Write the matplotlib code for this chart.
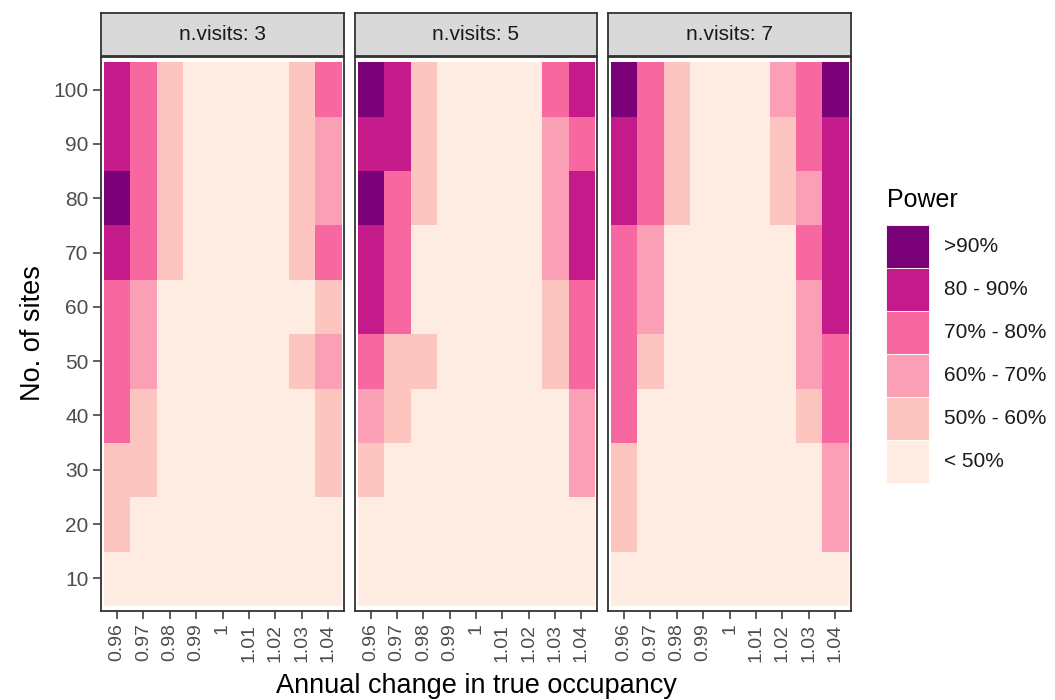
import numpy as np
import matplotlib
matplotlib.use("Agg")
import matplotlib.pyplot as plt
from matplotlib.colors import ListedColormap, BoundaryNorm
from matplotlib.patches import Rectangle

plt.rcParams['font.family'] = ['Liberation Sans', 'DejaVu Sans']

# x categories and y categories
changes = ["0.96", "0.97", "0.98", "0.99", "1", "1.01", "1.02", "1.03", "1.04"]
sites = [10, 20, 30, 40, 50, 60, 70, 80, 90, 100]
visits = [3, 5, 7]

# power classes: 0 "< 50%", 1 "50-60", 2 "60-70", 3 "70-80", 4 "80-90", 5 ">90"
# rows listed from 100 sites down to 10 sites
power_v3 = [
    [4, 3, 1, 0, 0, 0, 0, 1, 3],
    [4, 3, 1, 0, 0, 0, 0, 1, 2],
    [5, 3, 1, 0, 0, 0, 0, 1, 2],
    [4, 3, 1, 0, 0, 0, 0, 1, 3],
    [3, 2, 0, 0, 0, 0, 0, 0, 1],
    [3, 2, 0, 0, 0, 0, 0, 1, 2],
    [3, 1, 0, 0, 0, 0, 0, 0, 1],
    [1, 1, 0, 0, 0, 0, 0, 0, 1],
    [1, 0, 0, 0, 0, 0, 0, 0, 0],
    [0, 0, 0, 0, 0, 0, 0, 0, 0],
]
power_v5 = [
    [5, 4, 1, 0, 0, 0, 0, 3, 4],
    [4, 4, 1, 0, 0, 0, 0, 2, 3],
    [5, 3, 1, 0, 0, 0, 0, 2, 4],
    [4, 3, 0, 0, 0, 0, 0, 2, 4],
    [4, 3, 0, 0, 0, 0, 0, 1, 3],
    [3, 1, 1, 0, 0, 0, 0, 1, 3],
    [2, 1, 0, 0, 0, 0, 0, 0, 2],
    [1, 0, 0, 0, 0, 0, 0, 0, 2],
    [0, 0, 0, 0, 0, 0, 0, 0, 0],
    [0, 0, 0, 0, 0, 0, 0, 0, 0],
]
power_v7 = [
    [5, 3, 1, 0, 0, 0, 2, 3, 5],
    [4, 3, 1, 0, 0, 0, 1, 3, 4],
    [4, 3, 1, 0, 0, 0, 1, 2, 4],
    [3, 2, 0, 0, 0, 0, 0, 3, 4],
    [3, 2, 0, 0, 0, 0, 0, 2, 4],
    [3, 1, 0, 0, 0, 0, 0, 2, 3],
    [3, 0, 0, 0, 0, 0, 0, 1, 3],
    [1, 0, 0, 0, 0, 0, 0, 0, 2],
    [1, 0, 0, 0, 0, 0, 0, 0, 2],
    [0, 0, 0, 0, 0, 0, 0, 0, 0],
]
panels = [power_v3, power_v5, power_v7]

class_labels = ["< 50%", "50% - 60%", "60% - 70%", "70% - 80%", "80 - 90%", ">90%"]
class_colors = ["#feebe2", "#fcc5c0", "#fa9fb5", "#f768a1", "#c51b8a", "#7a0177"]

cmap = ListedColormap(class_colors)
norm = BoundaryNorm(np.arange(-0.5, 6.5, 1), cmap.N)

W, H = 1055, 700
fig = plt.figure(figsize=(W / 100, H / 100), dpi=100)

def px(x0, y0, x1, y1):
    # pixel box (top-left origin) -> figure fraction rect
    return [x0 / W, 1 - y1 / H, (x1 - x0) / W, (y1 - y0) / H]

panel_x = [(101, 344), (355, 597), (608, 851)]
edge = "#333333"

for i, (xa, xb) in enumerate(panel_x):
    ax = fig.add_axes(px(xa, 57, xb, 611))
    grid = np.array(panels[i])[::-1]  # bottom row = 10 sites
    ax.imshow(grid, cmap=cmap, norm=norm, origin="lower", aspect="auto",
              extent=(-0.5, len(changes) - 0.5, -0.5, len(sites) - 0.5),
              interpolation="nearest")
    ax.set_xlim(-0.6, len(changes) - 0.4)
    ax.set_ylim(-0.6, len(sites) - 0.4)
    ax.set_xticks(range(len(changes)))
    ax.set_xticklabels(changes, rotation=90, fontsize=14, color="#4d4d4d")
    if i == 0:
        ax.set_yticks(range(len(sites)))
        ax.set_yticklabels([str(s) for s in sites], fontsize=15, color="#4d4d4d")
    else:
        ax.set_yticks([])
    ax.tick_params(length=6, width=1.1, color=edge, pad=3)
    for s in ax.spines.values():
        s.set_color(edge)
        s.set_linewidth(1.3)

    sx = fig.add_axes(px(xa, 13, xb, 56))
    sx.set_facecolor("#d9d9d9")
    sx.set_xticks([])
    sx.set_yticks([])
    for s in sx.spines.values():
        s.set_color(edge)
        s.set_linewidth(1.3)
    sx.text(0.5, 0.5, f"n.visits: {visits[i]}", ha="center", va="center",
            fontsize=15, color="#1a1a1a", transform=sx.transAxes)

fig.text(476 / W, 1 - 686 / H, "Annual change in true occupancy",
         ha="center", va="center", fontsize=19.5)
fig.text(33 / W, 1 - 333 / H, "No. of sites", rotation=90,
         ha="center", va="center", fontsize=19.5)

# legend drawn by hand as key boxes
fig.text(887 / W, 1 - 200 / H, "Power", ha="left", va="center", fontsize=18)
key_top, key_h = 225, 43
for k, (lab, col) in enumerate(zip(class_labels[::-1], class_colors[::-1])):
    y0 = key_top + k * key_h
    fig.patches.append(Rectangle((886 / W, 1 - (y0 + key_h) / H), 43 / W, key_h / H,
                                 transform=fig.transFigure, facecolor=col,
                                 edgecolor="white", linewidth=0.6))
    fig.text(944 / W, 1 - (y0 + key_h / 2) / H, lab, ha="left", va="center",
             fontsize=15, color="#1a1a1a")

fig.savefig("out.png", dpi=100)
